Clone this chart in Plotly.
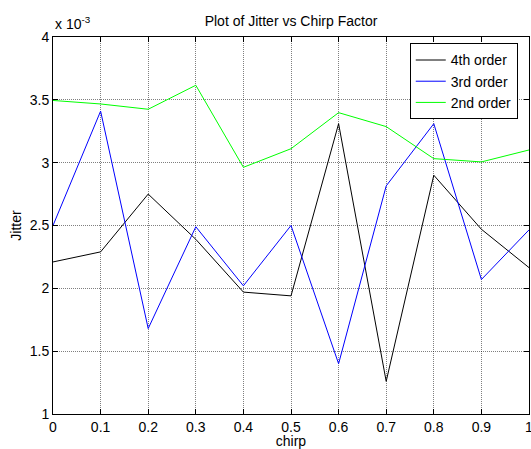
import plotly.graph_objects as go

chirp = [0, 0.1, 0.2, 0.3, 0.4, 0.5, 0.6, 0.7, 0.8, 0.9, 1.0]
# Jitter values in units of 1e-3
jitter_4th = [2.21, 2.29, 2.75, 2.39, 1.97, 1.94, 3.31, 1.26, 2.90, 2.47, 2.165]
jitter_3rd = [2.50, 3.41, 1.68, 2.49, 2.02, 2.50, 1.40, 2.815, 3.31, 2.07, 2.465]
jitter_2nd = [3.495, 3.467, 3.425, 3.616, 2.963, 3.111, 3.398, 3.287, 3.032, 3.006, 3.101]

x_ticks = [0, 0.1, 0.2, 0.3, 0.4, 0.5, 0.6, 0.7, 0.8, 0.9, 1]
x_ticktext = ["0", "0.1", "0.2", "0.3", "0.4", "0.5", "0.6", "0.7", "0.8", "0.9", "1"]
y_ticks = [1, 1.5, 2, 2.5, 3, 3.5, 4]
y_ticktext = ["1", "1.5", "2", "2.5", "3", "3.5", "4"]

FONT = "Liberation Sans, Arial, sans-serif"

fig = go.Figure()
fig.add_trace(go.Scatter(x=chirp, y=jitter_4th, mode="lines", name="4th order",
                         line=dict(color="#000000", width=1)))
fig.add_trace(go.Scatter(x=chirp, y=jitter_3rd, mode="lines", name="3rd order",
                         line=dict(color="#0000ff", width=1)))
fig.add_trace(go.Scatter(x=chirp, y=jitter_2nd, mode="lines", name="2nd order",
                         line=dict(color="#00ff00", width=1)))

axis_common = dict(
    showline=True, linecolor="black", linewidth=1, mirror="ticks",
    ticks="inside", ticklen=5, tickcolor="black",
    showgrid=True, gridcolor="rgba(0,0,0,0.5)", gridwidth=1, griddash="1px,1px",
    zeroline=False, automargin=False, ticklabeloverflow="allow",
    tickfont=dict(family=FONT, size=14, color="black"),
)

fig.update_layout(
    width=531, height=449,
    margin=dict(l=53, r=2, t=37, b=35),
    paper_bgcolor="white", plot_bgcolor="white",
    font=dict(family=FONT, size=14, color="black"),
    title=dict(text="Plot of Jitter vs Chirp Factor", x=291 / 531, xanchor="center",
               y=1 - 21 / 449, yanchor="middle", font=dict(size=14, family=FONT)),
    xaxis=dict(range=[0, 1], tickvals=x_ticks, ticktext=x_ticktext,
               title=dict(text="chirp", standoff=10, font=dict(size=14, family=FONT)),
               **axis_common),
    yaxis=dict(range=[1, 4], tickvals=y_ticks, ticktext=y_ticktext,
               title=dict(text="Jitter", standoff=4, font=dict(size=14, family=FONT)),
               **axis_common),
    legend=dict(x=0.7495, y=0.983, xanchor="left", yanchor="top",
                bgcolor="white", bordercolor="black", borderwidth=1,
                font=dict(size=14, family=FONT), tracegroupgap=0,
                itemwidth=30),
    showlegend=True,
)

fig.add_annotation(text="x 10<sup>-3</sup>", xref="paper", yref="paper",
                   x=0, y=1, xanchor="left", yanchor="bottom", yshift=3,
                   showarrow=False, font=dict(size=14, family=FONT))

fig.write_html("out.html", config={"displayModeBar": False},
               post_script="document.body.style.margin='0px';")
